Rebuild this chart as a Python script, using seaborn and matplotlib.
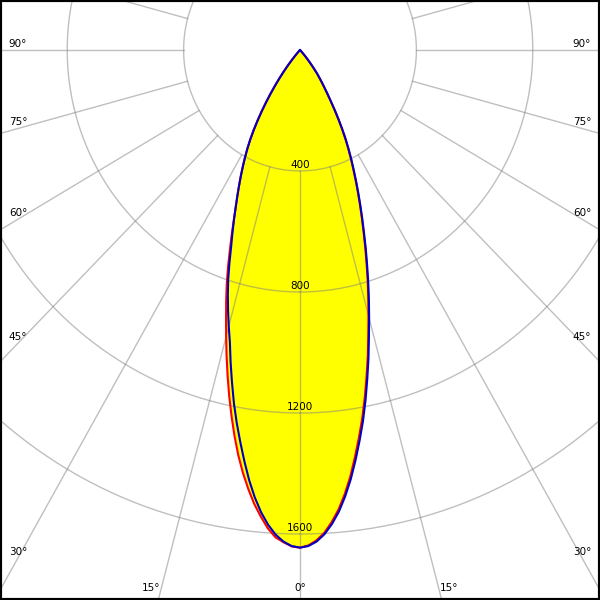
import numpy as np
import pandas as pd
import matplotlib
matplotlib.use("Agg")
import matplotlib.pyplot as plt
import seaborn as sns

# ---- data (cd/klm), 1 degree steps ----------------------------------------
angles = list(range(0, 44))
blue_right = [1645, 1640, 1626, 1603, 1571, 1532, 1484, 1430, 1370, 1308,
              1246, 1180, 1112, 1046, 979, 918, 859, 802, 746, 694,
              643, 597, 553, 512, 473, 436, 402, 368, 335, 300,
              265, 232, 200, 174, 151, 131, 113, 97, 76, 57,
              41, 25, 10, 0]
red_right = [1645, 1638, 1622, 1598, 1564, 1524, 1475, 1420, 1358, 1296,
             1234, 1168, 1101, 1036, 970, 909, 851, 795, 740, 688,
             638, 592, 549, 508, 469, 432, 398, 364, 331, 297,
             262, 229, 198, 172, 149, 129, 111, 95, 75, 56,
             40, 24, 10, 0]
blue_left = [1645, 1640, 1626, 1604, 1573, 1534, 1487, 1433, 1373, 1312,
             1252, 1190, 1124, 1060, 996, 946, 897, 848, 799, 745,
             692, 648, 606, 566, 530, 496, 464, 433, 403, 373,
             342, 309, 275, 241, 208, 176, 146, 118, 92, 67,
             44, 25, 10, 0]
red_left = [1645, 1641, 1628, 1613, 1585, 1548, 1508, 1461, 1411, 1356,
            1296, 1233, 1170, 1106, 1043, 981, 922, 868, 815, 760,
            705, 655, 608, 566, 530, 496, 464, 433, 403, 373,
            342, 309, 275, 241, 208, 176, 146, 118, 92, 67,
            44, 25, 10, 0]
ring_values = [400, 800, 1200, 1600]
ring_labels = ["400", "800", "1200", "1600"]
side_angles = [90, 75, 60, 45, 30]
bottom_angles = [15, 0]

sns.set_theme(style="white")
plt.rcParams["font.family"] = ["DejaVu Sans"]

XL = (-1031, 1031)
YL = (-1818, 165)


def curve(left, right):
    a = np.array(angles, dtype=float)
    th = np.concatenate([-a[::-1], a[1:]])
    I = np.concatenate([np.array(left, float)[::-1], np.array(right, float)[1:]])
    x = I * np.sin(np.radians(th))
    y = -I * np.cos(np.radians(th))
    return pd.DataFrame({"x": x, "y": y, "order": np.arange(len(x))})


red = curve(red_left, red_right)
blue = curve(blue_left, blue_right)

fig = plt.figure(figsize=(6, 6), dpi=100)
ax = fig.add_axes([0, 0, 1, 1])
ax.set_xlim(*XL)
ax.set_ylim(*YL)

# fill
ax.fill(red["x"], red["y"], color="#ffff00", zorder=1, lw=0)
ax.fill(blue["x"], blue["y"], color="#ffff00", zorder=1, lw=0)

# grid
gcol = "#808080"
t = np.linspace(0, 2 * np.pi, 721)
for r in ring_values:
    ax.plot(r * np.sin(t), -r * np.cos(t), color=gcol, alpha=0.5, lw=1, zorder=2)
for a in range(0, 360, 15):
    ar = np.radians(a)
    ax.plot([400 * np.sin(ar), 4000 * np.sin(ar)], [-400 * np.cos(ar), -4000 * np.cos(ar)],
            color=gcol, alpha=0.5, lw=1, zorder=2)

# ring labels
for r, lab in zip(ring_values, ring_labels):
    ax.annotate(lab, (0, -r), xytext=(0, 1), textcoords="offset pixels",
                ha="center", va="bottom", fontsize=7.5, color="black", zorder=3)

# curves
sns.lineplot(data=red, x="x", y="y", sort=False, estimator=None, color="#ff0000",
             lw=1.5, ax=ax, zorder=4)
sns.lineplot(data=blue, x="x", y="y", sort=False, estimator=None, color="#0000c0",
             lw=1.5, ax=ax, zorder=5)


def px2x(px):
    return XL[0] + px / 600 * (XL[1] - XL[0])


def py2y(py):
    return YL[1] - py / 600 * (YL[1] - YL[0])


# side angle labels
for a in side_angles:
    for side in (-1, 1):
        xd = px2x(18) if side < 0 else px2x(582)
        yd = 0.0 if a == 90 else -abs(xd) / np.tan(np.radians(a))
        ax.annotate(f"{a}°", (xd, yd), xytext=(0, 6), textcoords="offset pixels",
                    ha="center", va="center", fontsize=7.5, color="black", zorder=3)

# bottom angle labels
for a in bottom_angles:
    yd = py2y(588)
    sides = (-1, 1) if a != 0 else (0,)
    for side in sides:
        xd = side * abs(yd) * np.tan(np.radians(a))
        ax.annotate(f"{a}°", (xd, yd), xytext=(10 * side, 0), textcoords="offset pixels",
                    ha="center", va="center", fontsize=7.5, color="black", zorder=3)

ax.set_xlabel("")
ax.set_ylabel("")
ax.set_xticks([])
ax.set_yticks([])
for s in ax.spines.values():
    s.set_visible(True)
    s.set_color("black")
    s.set_linewidth(3)

fig.savefig("out.png", dpi=100)
